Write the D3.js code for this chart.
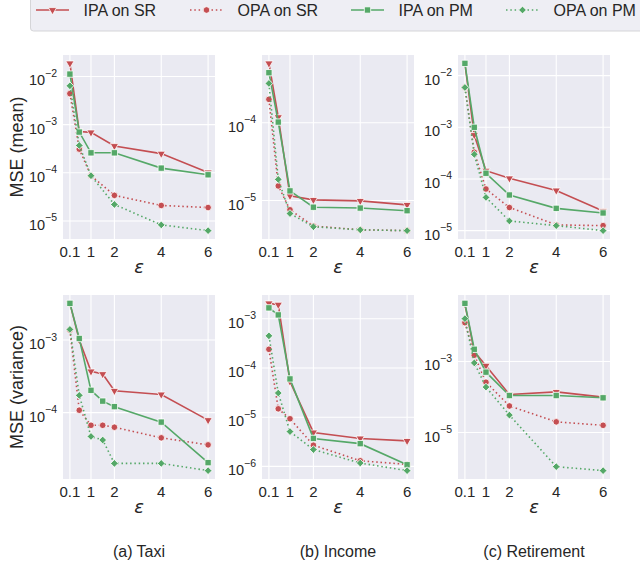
<!DOCTYPE html>
<html>
<head>
<meta charset="utf-8">
<script src="https://cdn.jsdelivr.net/npm/d3@7"></script>
<style>
  body { margin: 0; background: #fff; }
  svg text { font-family: "Liberation Sans", Arial, sans-serif; fill: #262626; }
</style>
</head>
<body>
<svg id="chart" width="640" height="562"></svg>
<script>
// epsilon values
const eps = [0.1, 0.5, 1, 2, 4, 6];
const epsTaxiVar = [0.1, 0.5, 1, 1.5, 2, 4, 6];
const xTicks = [0.1, 1, 2, 4, 6];

const seriesNames = ["IPA on SR", "OPA on SR", "IPA on PM", "OPA on PM"];

// each panel: [IPA on SR, OPA on SR, IPA on PM, OPA on PM]
const taxiMean = [
  [1.87e-2, 7.2e-4, 6.9e-4, 3.6e-4, 2.5e-4, 1.02e-4],
  [4.4e-3, 3.1e-4, 8.7e-5, 3.4e-5, 2.1e-5, 1.9e-5],
  [1.12e-2, 7.0e-4, 2.6e-4, 2.6e-4, 1.25e-4, 9.1e-5],
  [6.4e-3, 3.7e-4, 8.7e-5, 2.2e-5, 8.3e-6, 6.3e-6]
];
const incomeMean = [
  [5.8e-4, 1.18e-4, 1.15e-5, 1.02e-5, 9.9e-6, 8.8e-6],
  [2.0e-4, 1.54e-5, 7.6e-6, 4.7e-6, 4.2e-6, 4.1e-6],
  [4.4e-4, 1.02e-4, 1.33e-5, 8.2e-6, 8.0e-6, 7.4e-6],
  [3.2e-4, 1.87e-5, 6.8e-6, 4.6e-6, 4.2e-6, 4.1e-6]
];
const retirementMean = [
  [1.7e-2, 7.1e-4, 1.45e-4, 1.03e-4, 6.0e-5, 2.4e-5],
  [5.9e-3, 3.3e-4, 6.4e-5, 2.8e-5, 1.29e-5, 1.25e-5],
  [1.73e-2, 1.0e-3, 1.29e-4, 4.9e-5, 2.7e-5, 2.2e-5],
  [5.9e-3, 3.0e-4, 4.4e-5, 1.54e-5, 1.25e-5, 1.0e-5]
];
const taxiVar = [
  [3.2e-3, 1.0e-3, 3.7e-4, 3.4e-4, 2.0e-4, 1.78e-4, 7.9e-5],
  [1.37e-3, 1.08e-4, 6.7e-5, 6.7e-5, 6.3e-5, 4.5e-5, 3.6e-5],
  [3.2e-3, 1.05e-3, 2.03e-4, 1.44e-4, 1.21e-4, 7.4e-5, 2.05e-5],
  [1.4e-3, 1.73e-4, 4.7e-5, 4.2e-5, 2.0e-5, 2.0e-5, 1.59e-5]
];
const incomeVar = [
  [2.06e-3, 1.94e-3, 5.3e-5, 4.9e-6, 3.7e-6, 3.3e-6],
  [2.4e-4, 1.48e-5, 9.3e-6, 2.7e-6, 1.3e-6, 1.1e-6],
  [1.67e-3, 1.2e-3, 6.0e-5, 3.7e-6, 2.9e-6, 1.08e-6],
  [4.5e-4, 3.1e-5, 5.1e-6, 2.2e-6, 1.17e-6, 8.2e-7]
];
const retirementVar = [
  [4.1e-2, 1.9e-3, 7.6e-4, 1.18e-4, 1.39e-4, 9.9e-5],
  [1.23e-2, 1.5e-3, 2.6e-4, 5.6e-5, 2.0e-5, 1.6e-5],
  [4.3e-2, 2.2e-3, 5.0e-4, 1.1e-4, 1.1e-4, 9.5e-5],
  [1.6e-2, 9.1e-4, 1.9e-4, 3.1e-5, 1.1e-6, 8.5e-7]
];

const captions = ["(a) Taxi", "(b) Income", "(c) Retirement"];
const rowLabels = ["MSE (mean)", "MSE (variance)"];

const panels = [
  { row: 0, col: 0, x: eps, ys: taxiMean },
  { row: 0, col: 1, x: eps, ys: incomeMean },
  { row: 0, col: 2, x: eps, ys: retirementMean },
  { row: 1, col: 0, x: epsTaxiVar, ys: taxiVar },
  { row: 1, col: 1, x: eps, ys: incomeVar },
  { row: 1, col: 2, x: eps, ys: retirementVar }
];

const red = "#C44E52", green = "#55A868";
const styles = [
  { color: red, dash: null, marker: "tri" },
  { color: red, dash: "1.5,2.8", marker: "circle" },
  { color: green, dash: null, marker: "square" },
  { color: green, dash: "1.5,2.8", marker: "diamond" }
];

const colLeft = [63, 262, 458];
const rowTop = [55, 295];
const pw = 152, ph = 184;

const svg = d3.select("#chart");

function markerPath(kind) {
  if (kind === "tri") return d3.symbol(d3.symbolTriangle, 30)();
  if (kind === "circle") return d3.symbol(d3.symbolCircle, 34)();
  if (kind === "square") return d3.symbol(d3.symbolSquare, 40)();
  return d3.symbol(d3.symbolSquare, 30)();
}
function markerRot(kind) {
  if (kind === "tri") return 180;
  if (kind === "diamond") return 45;
  return 0;
}

panels.forEach(p => {
  const g = svg.append("g")
    .attr("transform", `translate(${colLeft[p.col]},${rowTop[p.row]})`);

  const x = d3.scaleLinear()
    .domain([0.1 - 0.05 * 5.9, 6 + 0.05 * 5.9])
    .range([0, pw]);

  const all = p.ys.flat();
  const lo = Math.log10(d3.min(all)), hi = Math.log10(d3.max(all));
  const pad = (hi - lo) * 0.05;
  const y = d3.scaleLog()
    .domain([Math.pow(10, lo - pad), Math.pow(10, hi + pad)])
    .range([ph, 0]);

  g.append("rect").attr("width", pw).attr("height", ph).attr("fill", "#EAEAF2");

  // every decade, or every other one when the axis spans many
  const span = (hi + pad) - (lo - pad);
  const stride = span > 4.5 ? 2 : 1;
  const decades = d3.range(Math.floor(lo - pad) - stride, Math.ceil(hi + pad) + 1, stride)
    .filter(d => d >= lo - pad && d <= hi + pad);

  g.selectAll(".gx").data(xTicks).join("line")
    .attr("x1", d => x(d)).attr("x2", d => x(d))
    .attr("y1", 0).attr("y2", ph)
    .attr("stroke", "#fff").attr("stroke-width", 1.1);
  g.selectAll(".gy").data(decades).join("line")
    .attr("x1", 0).attr("x2", pw)
    .attr("y1", d => y(Math.pow(10, d))).attr("y2", d => y(Math.pow(10, d)))
    .attr("stroke", "#fff").attr("stroke-width", 1.1);

  // x tick labels
  g.selectAll(".xt").data(xTicks).join("text")
    .attr("x", d => x(d)).attr("y", ph + 17.5)
    .attr("text-anchor", "middle")
    .style("font-size", "15px")
    .text(d => d);

  // y tick labels 10^n
  const yt = g.selectAll(".yt").data(decades).join("text")
    .attr("x", -6).attr("y", d => y(Math.pow(10, d)) + 9)
    .attr("text-anchor", "end")
    .style("font-size", "14.5px");
  yt.append("tspan").text("10");
  yt.append("tspan").attr("dy", -8.5).style("font-size", "10.5px")
    .text(d => "\u2212" + Math.abs(d));

  // epsilon label
  g.append("text")
    .attr("x", pw / 2).attr("y", ph + 34)
    .attr("text-anchor", "middle")
    .style("font-size", "18px").style("font-style", "italic")
    .style("font-family", "'DejaVu Sans', sans-serif")
    .text("\u03b5");

  if (p.col === 0) {
    g.append("text")
      .attr("transform", `translate(-40.5,${ph / 2}) rotate(-90)`)
      .attr("text-anchor", "middle")
      .style("font-size", "18px")
      .text(rowLabels[p.row]);
  }

  const line = d3.line().x(d => x(d[0])).y(d => y(d[1]));

  p.ys.forEach((vals, i) => {
    const st = styles[i];
    const pts = p.x.map((e, k) => [e, vals[k]]);
    g.append("path").datum(pts)
      .attr("d", line)
      .attr("fill", "none")
      .attr("stroke", st.color)
      .attr("stroke-width", 1.6)
      .attr("stroke-dasharray", st.dash);
    g.selectAll(null).data(pts).join("path")
      .attr("d", markerPath(st.marker))
      .attr("transform", d => `translate(${x(d[0])},${y(d[1])}) rotate(${markerRot(st.marker)})`)
      .attr("fill", st.color)
      .attr("stroke", "#fff")
      .attr("stroke-width", 0.8);
  });
});

// captions, centred under each column
svg.selectAll(".cap").data(captions).join("text")
  .attr("x", (d, i) => colLeft[i] + pw / 2).attr("y", 557)
  .attr("text-anchor", "middle")
  .style("font-size", "16px")
  .text(d => d);

// legend
const leg = svg.append("g");
leg.append("rect")
  .attr("x", 30.5).attr("y", -5).attr("width", 640).attr("height", 36)
  .attr("rx", 3)
  .attr("fill", "#EEEEF4").attr("stroke", "#D5D5D8");
const legX = [36, 190, 351, 506];
seriesNames.forEach((name, i) => {
  const st = styles[i];
  const lg = leg.append("g").attr("transform", `translate(${legX[i]},10)`);
  lg.append("line").attr("x1", 0).attr("x2", 33)
    .attr("stroke", st.color).attr("stroke-width", 1.6)
    .attr("stroke-dasharray", st.dash);
  lg.append("path").attr("d", markerPath(st.marker))
    .attr("transform", `translate(16.5,0) rotate(${markerRot(st.marker)})`)
    .attr("fill", st.color).attr("stroke", "#fff").attr("stroke-width", 0.8);
  lg.append("text").attr("x", 47.5).attr("y", 6)
    .style("font-size", "16px").text(name);
});
</script>
</body>
</html>
